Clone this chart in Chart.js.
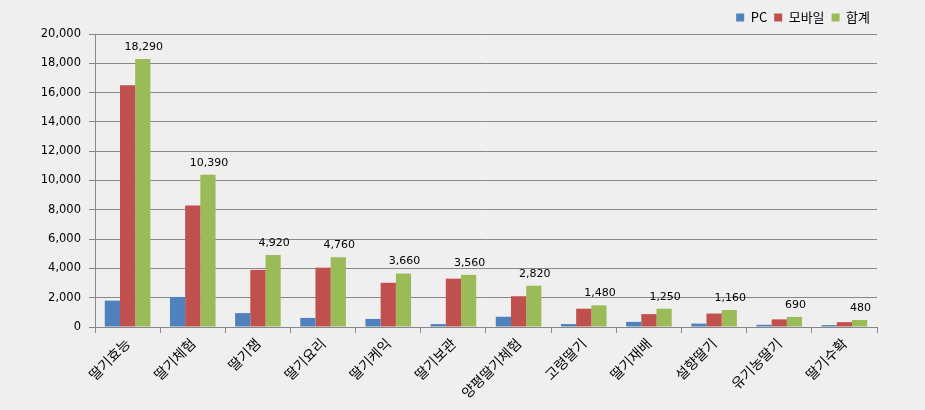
<!DOCTYPE html>
<html><head><meta charset="utf-8">
<script src="https://cdn.jsdelivr.net/npm/chart.js@4"></script>
<style>html,body{margin:0;padding:0;background:#efefef;}#wrap{width:925px;height:410px;}</style>
</head><body><div id="wrap"><canvas id="c" width="925" height="410"></canvas></div>
<script>
const categories = ['딸기효능','딸기체험','딸기잼','딸기요리','딸기케익','딸기보관','양평딸기체험','고령딸기','딸기재배','설향딸기','유기농딸기','딸기수확'];
const pcValues     = [1800, 2050, 950, 620, 550, 200, 700, 200, 350, 230, 150, 130];
const mobileValues = [16500, 8300, 3900, 4050, 3020, 3300, 2100, 1250, 880, 920, 520, 330];
const totalValues  = [18290, 10390, 4920, 4760, 3660, 3560, 2820, 1480, 1250, 1160, 690, 480];
const seriesNames = ['PC','모바일','합계'];
const yTicks = [0,2000,4000,6000,8000,10000,12000,14000,16000,18000,20000];

const numFont = "'DejaVu Sans', sans-serif";
const korFont = "'Noto Sans CJK KR', sans-serif";
const fmt = v => v.toLocaleString('en-US');

const labelPlugin = {
  id: 'totalLabels',
  afterDatasetsDraw(chart) {
    const ctx = chart.ctx;
    const meta = chart.getDatasetMeta(2);
    ctx.save();
    ctx.font = "11px " + numFont;
    ctx.fillStyle = '#000';
    ctx.textAlign = 'center';
    ctx.textBaseline = 'alphabetic';
    meta.data.forEach((bar, i) => {
      ctx.fillText(fmt(totalValues[i]), bar.x + 1, bar.y - 9);
    });
    ctx.restore();
  }
};

new Chart(document.getElementById('c'), {
  type: 'bar',
  data: {
    labels: categories,
    datasets: [
      {label: seriesNames[0], data: pcValues, backgroundColor: '#4F81BD'},
      {label: seriesNames[1], data: mobileValues, backgroundColor: '#C0504D'},
      {label: seriesNames[2], data: totalValues, backgroundColor: '#9BBB59'}
    ]
  },
  options: {
    responsive: false,
    animation: false,
    layout: {padding: {left: 0, right: 48, top: 4, bottom: 0}},
    datasets: {bar: {categoryPercentage: 0.7, barPercentage: 1.0}},
    plugins: {
      legend: {
        position: 'top', align: 'end',
        labels: {boxWidth: 8, boxHeight: 8, padding: 7, color: '#000', font: {size: 13, family: korFont}}
      },
      tooltip: {enabled: false}
    },
    scales: {
      x: {
        grid: {drawOnChartArea: false, drawTicks: true, tickLength: 6, color: '#888', offset: true},
        border: {color: '#888', width: 1},
        ticks: {color: '#000', font: {size: 14, family: korFont}, minRotation: 45, maxRotation: 45, padding: 2},
        afterFit(s) { s.height = 83; }
      },
      y: {
        min: 0, max: 20000,
        afterBuildTicks(s) { s.ticks = yTicks.map(v => ({value: v})); },
        grid: {color: '#888', tickLength: 6, lineWidth: 1},
        border: {color: '#888', width: 1},
        ticks: {color: '#000', font: {size: 11.5, family: numFont}, padding: 8, callback: v => fmt(v)},
        afterFit(s) { s.width = 95; }
      }
    }
  },
  plugins: [labelPlugin]
});
</script>
</body></html>
